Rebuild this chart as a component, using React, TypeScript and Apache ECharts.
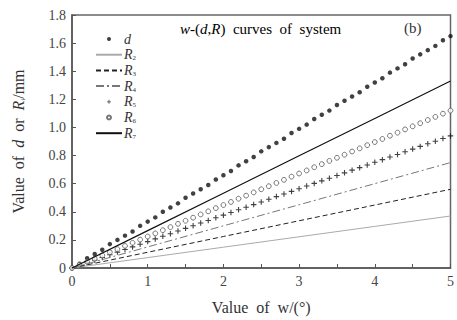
import React, { useEffect, useRef } from "react";
import * as echarts from "echarts";

const wMarks = [
  0, 0.1, 0.2, 0.3, 0.4, 0.5, 0.6, 0.7, 0.8, 0.9,
  1.0, 1.1, 1.2, 1.3, 1.4, 1.5, 1.6, 1.7, 1.8, 1.9,
  2.0, 2.1, 2.2, 2.3, 2.4, 2.5, 2.6, 2.7, 2.8, 2.9,
  3.0, 3.1, 3.2, 3.3, 3.4, 3.5, 3.6, 3.7, 3.8, 3.9,
  4.0, 4.1, 4.2, 4.3, 4.4, 4.5, 4.6, 4.7, 4.8, 4.9, 5.0,
];

const dValues = [
  0, 0.03, 0.07, 0.10, 0.13, 0.17, 0.20, 0.23, 0.26, 0.30,
  0.33, 0.36, 0.40, 0.43, 0.46, 0.50, 0.53, 0.56, 0.59, 0.63,
  0.66, 0.69, 0.73, 0.76, 0.79, 0.83, 0.86, 0.89, 0.92, 0.96,
  0.99, 1.02, 1.06, 1.09, 1.12, 1.16, 1.19, 1.22, 1.25, 1.29,
  1.32, 1.35, 1.39, 1.42, 1.45, 1.49, 1.52, 1.55, 1.58, 1.62, 1.65,
];

const r5Values = [
  0, 0.019, 0.038, 0.056, 0.075, 0.094, 0.113, 0.132, 0.150, 0.169,
  0.188, 0.207, 0.226, 0.244, 0.263, 0.282, 0.301, 0.320, 0.338, 0.357,
  0.376, 0.395, 0.414, 0.432, 0.451, 0.470, 0.489, 0.508, 0.526, 0.545,
  0.564, 0.583, 0.602, 0.620, 0.639, 0.658, 0.677, 0.696, 0.714, 0.733,
  0.752, 0.771, 0.790, 0.808, 0.827, 0.846, 0.865, 0.884, 0.902, 0.921, 0.94,
];

const r6Values = [
  0, 0.022, 0.045, 0.067, 0.090, 0.112, 0.134, 0.157, 0.179, 0.202,
  0.224, 0.246, 0.269, 0.291, 0.314, 0.336, 0.358, 0.381, 0.403, 0.426,
  0.448, 0.470, 0.493, 0.515, 0.538, 0.560, 0.582, 0.605, 0.627, 0.650,
  0.672, 0.694, 0.717, 0.739, 0.762, 0.784, 0.806, 0.829, 0.851, 0.874,
  0.896, 0.918, 0.941, 0.963, 0.986, 1.008, 1.030, 1.053, 1.075, 1.098, 1.12,
];

const wLine = [0, 1, 2, 3, 4, 5];
const r2Values = [0, 0.074, 0.148, 0.222, 0.296, 0.37];
const r3Values = [0, 0.112, 0.224, 0.336, 0.448, 0.56];
const r4Values = [0, 0.15, 0.30, 0.45, 0.60, 0.75];
const r7Values = [0, 0.266, 0.532, 0.798, 1.064, 1.33];

const seriesNames = ["d", "R2", "R3", "R4", "R5", "R6", "R7"];
const lineNames = ["R2", "R3", "R4", "R7"];

const SERIF = "'Liberation Serif', 'DejaVu Serif', serif";
const PLUS = "path://M2,0H3V2H5V3H3V5H2V3H0V2H2Z";

function pairs(xs: number[], ys: number[]) {
  return xs.map((x, i) => [x, ys[i]]);
}

export default function App() {
  const ref = useRef<HTMLDivElement>(null);
  useEffect(() => {
    if (!ref.current) return;
    const chart = echarts.init(ref.current, null, { renderer: "svg" });
    const mk = (size: number) => ({
      i: { fontFamily: SERIF, fontStyle: "italic", fontSize: size, color: "#333" },
      n: { fontFamily: SERIF, fontSize: size, color: "#333" },
      s: { fontFamily: SERIF, fontSize: 7, color: "#333", verticalAlign: "bottom", padding: [7, 0, 0, 0] },
    });
    chart.setOption({
      animation: false,
      backgroundColor: "#fff",
      grid: {
        left: 72,
        top: 15,
        right: 2,
        bottom: 48,
        show: true,
        borderColor: "#666",
        borderWidth: 1.5,
        containLabel: false,
      },
      graphic: [
        {
          type: "text",
          left: 180,
          top: 21,
          style: {
            text: "{i|w}{n|-(}{i|d}{n|,}{i|R}{n|)  curves  of  system}",
            rich: mk(15),
          },
        },
        {
          type: "text",
          left: 404,
          top: 20,
          style: { text: "(b)", font: `15px ${SERIF}`, fill: "#333" },
        },
      ],
      legend: {
        orient: "vertical",
        left: 90,
        top: 27,
        itemWidth: 26,
        itemHeight: 4,
        itemGap: 1.7,
        data: seriesNames.map((n) =>
          lineNames.includes(n)
            ? { name: n, itemStyle: { opacity: 0 } }
            : { name: n }
        ),
        formatter: (name: string) =>
          name === "d" ? "{i|d}" : `{i|R}{s|${name.slice(1)}}`,
        textStyle: { rich: mk(14), lineHeight: 14, padding: [0, 0, 0, -3] },
      },
      xAxis: {
        type: "value",
        min: 0,
        max: 5,
        interval: 0.5,
        name: "Value  of  w/(°)",
        nameLocation: "middle",
        nameGap: 31,
        nameTextStyle: { fontFamily: SERIF, fontSize: 16, color: "#333" },
        axisLine: { lineStyle: { color: "#555", width: 1.5 } },
        axisTick: { inside: true, length: 4, lineStyle: { color: "#555" } },
        axisLabel: {
          fontFamily: SERIF,
          fontSize: 14,
          color: "#444",
          margin: 6,
          formatter: (v: number) => (Number.isInteger(v) ? String(v) : ""),
        },
        splitLine: { show: false },
      },
      yAxis: {
        type: "value",
        min: 0,
        max: 1.8,
        interval: 0.2,
        name: "{n|Value  of  }{i|d}{n|  or  }{i|R}{s|i}{n|/mm}",
        nameLocation: "middle",
        nameGap: 46,
        nameRotate: 90,
        nameTextStyle: { rich: mk(16) },
        axisLine: { lineStyle: { color: "#555", width: 1.5 } },
        axisTick: { inside: true, length: 4, lineStyle: { color: "#555" } },
        axisLabel: {
          fontFamily: SERIF,
          fontSize: 14,
          color: "#444",
          margin: 6,
          formatter: (v: number) => (v === 0 ? "0" : v.toFixed(1)),
        },
        splitLine: { show: false },
      },
      series: [
        {
          name: "d",
          type: "scatter",
          data: pairs(wMarks, dValues),
          symbol: "circle",
          symbolSize: 4.5,
          itemStyle: { color: "#111" },
        },
        {
          name: "R2",
          type: "line",
          data: pairs(wLine, r2Values),
          symbol: "none",
          lineStyle: { color: "#aaa", width: 1 },
          itemStyle: { color: "#aaa" },
        },
        {
          name: "R3",
          type: "line",
          data: pairs(wLine, r3Values),
          symbol: "none",
          lineStyle: { color: "#222", width: 1, type: [5, 3] },
          itemStyle: { color: "#222" },
        },
        {
          name: "R4",
          type: "line",
          data: pairs(wLine, r4Values),
          symbol: "none",
          lineStyle: { color: "#777", width: 1, type: [8, 3, 2, 3] },
          itemStyle: { color: "#777" },
        },
        {
          name: "R5",
          type: "scatter",
          data: pairs(wMarks, r5Values),
          symbol: PLUS,
          symbolSize: 5.5,
          itemStyle: { color: "#111" },
        },
        {
          name: "R6",
          type: "scatter",
          data: pairs(wMarks, r6Values),
          symbol: "circle",
          symbolSize: 4.8,
          itemStyle: { color: "#fff", borderColor: "#555", borderWidth: 1 },
        },
        {
          name: "R7",
          type: "line",
          data: pairs(wLine, r7Values),
          symbol: "none",
          lineStyle: { color: "#111", width: 1.2 },
          itemStyle: { color: "#111" },
        },
      ],
    });
    return () => chart.dispose();
  }, []);
  return (
    <div
      ref={ref}
      style={{ position: "fixed", left: 0, top: 0, width: 457, height: 320 }}
    />
  );
}
